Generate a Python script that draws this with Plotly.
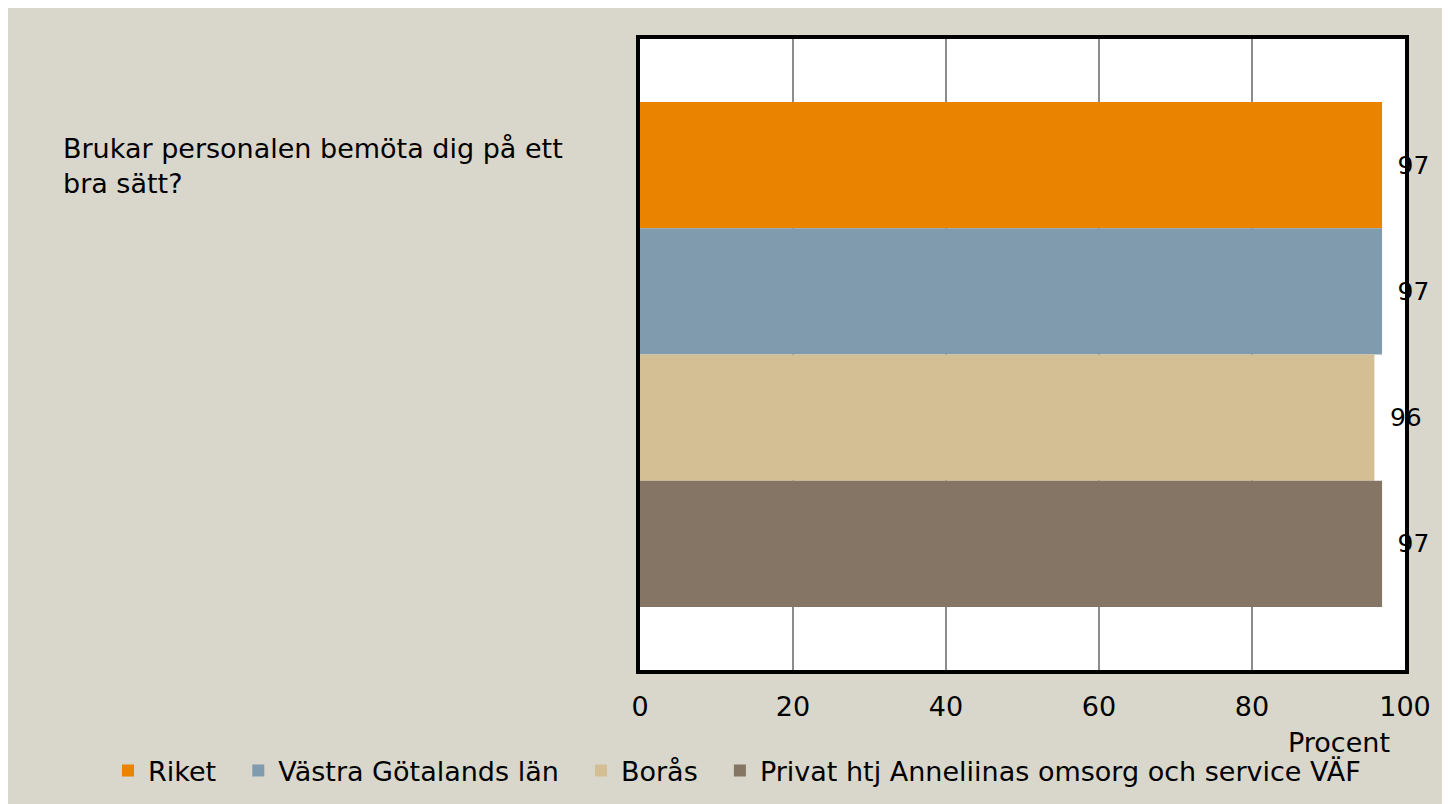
import plotly.graph_objects as go

category = "Brukar personalen bemöta dig på ett<br>bra sätt?"
series_names = ["Riket", "Västra Götalands län", "Borås", "Privat htj Anneliinas omsorg och service VÄF"]
series_values = [97, 97, 96, 97]
series_colors = ["#E98300", "#7F9BAD", "#D4BE94", "#857565"]
x_ticks = [0, 20, 40, 60, 80, 100]

FONT = "DejaVu Sans"
BG = "#D9D7CB"
PAD = "\u00a0\u00a0"

fig = go.Figure()
for name, val, col in zip(series_names, series_values, series_colors):
    fig.add_trace(go.Bar(
        y=[category], x=[val], name=name + PAD, orientation="h",
        marker=dict(color=col, line=dict(width=0)),
        text=[val], texttemplate="\u2002%{x}", textposition="outside",
        cliponaxis=False, textfont=dict(family=FONT, size=25, color="#000"),
    ))

W, H = 1450, 804
ml, mr, mt, mb = 632, 53, 31, 142
pw, ph = W - ml - mr, H - mt - mb

def px(x):
    return (x - ml) / pw

def py(y):
    return (H - mb - y) / ph

fig.add_annotation(text=category, xref="paper", yref="paper",
                   x=px(53), y=py(123), xanchor="left", yanchor="top",
                   align="left", showarrow=False,
                   font=dict(family=FONT, size=27, color="#000"))
fig.add_annotation(text="Procent", xref="paper", yref="paper",
                   x=px(1331), y=py(734), xanchor="center", yanchor="middle",
                   showarrow=False, font=dict(family=FONT, size=27, color="#000"))

fig.update_layout(
    width=W, height=H,
    margin=dict(l=ml, r=mr, t=mt, b=mb),
    paper_bgcolor=BG, plot_bgcolor="white",
    barmode="group", bargap=0.2, bargroupgap=0,
    showlegend=True,
    legend=dict(orientation="h", x=px(100), y=py(763), xanchor="left", yanchor="middle",
                font=dict(family=FONT, size=27, color="#000"),
                bgcolor="rgba(0,0,0,0)", traceorder="normal"),
    xaxis=dict(range=[0, 100], tickvals=x_ticks, showgrid=True, gridcolor="#8C8C8C", gridwidth=1.5,
               showline=True, linecolor="#000", linewidth=4, mirror=True, zeroline=False,
               ticks="", ticklabelstandoff=10,
               tickfont=dict(family=FONT, size=27, color="#000")),
    yaxis=dict(autorange="reversed", showticklabels=False, showgrid=False,
               showline=True, linecolor="#000", linewidth=4, mirror=True, ticks=""),
)

fig.write_html("out.html")
